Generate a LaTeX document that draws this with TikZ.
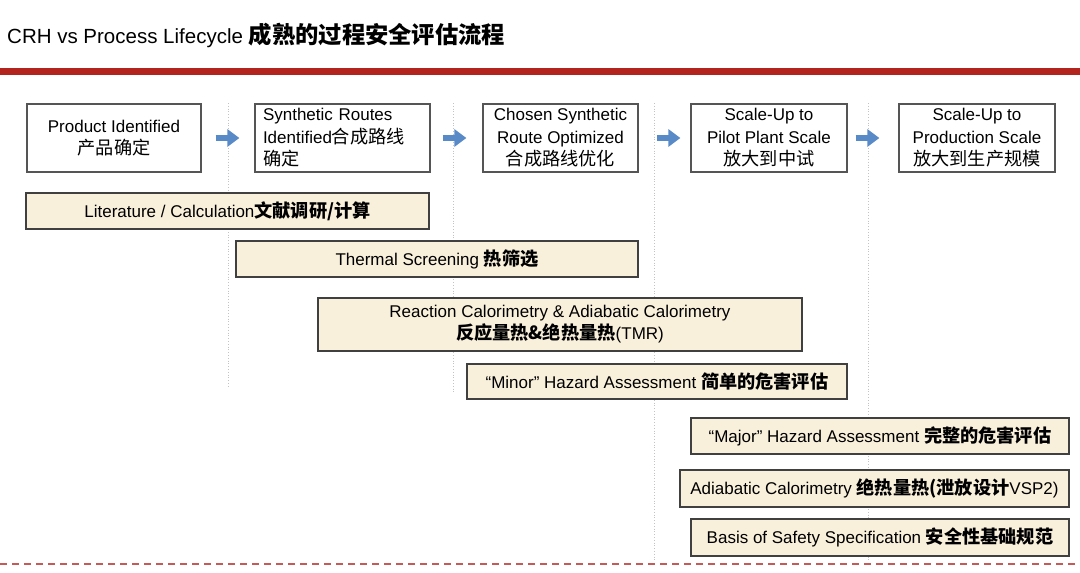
\documentclass[tikz,border=0pt]{standalone}
\usepackage{fontspec}
\setmainfont{Liberation Sans}
\newfontfamily\cjk[Scale=1.07]{Noto Sans CJK SC}
\usetikzlibrary{arrows.meta}
\newcommand{\zh}[1]{{\cjk #1}}
\newcommand{\zhb}[1]{{\cjk\bfseries #1}}
\definecolor{redbar}{RGB}{180,36,30}
\definecolor{dashred}{RGB}{198,90,88}
\definecolor{arrowblue}{RGB}{88,138,200}
\definecolor{cream}{RGB}{249,240,220}
\definecolor{boxgray}{RGB}{85,85,85}
\definecolor{bargray}{RGB}{64,64,64}
\definecolor{dotgray}{RGB}{195,195,195}
\tikzset{
  stage/.style={draw=boxgray, line width=1.2pt, fill=white, minimum height=68pt,
    inner sep=0pt, align=center, font=\fontsize{17}{22.5}\selectfont},
  bar/.style={draw=bargray, line width=1.3pt, fill=cream, inner sep=0pt,
    align=center, font=\fontsize{17}{22}\selectfont},
  flow/.style={draw=arrowblue, line width=6.5pt,
    -{Triangle[length=12pt,width=17pt]}},
  guide/.style={draw=dotgray, line width=0.8pt, dotted},
}
\begin{document}
\begin{tikzpicture}[x=1pt,y=-1pt]
\useasboundingbox (0,0) rectangle (1080,573);
% title
\node[anchor=west, inner sep=0pt] (title) at (7,35)
  {\fontsize{20.5}{26}\selectfont CRH vs Process Lifecycle \fontsize{21.8}{26}\selectfont\zhb{成熟的过程安全评估流程}};
% red bar
\fill[redbar] (0,68) rectangle (1080,75);
% guides
\draw[guide] (228,103) -- (228,386);
\draw[guide] (453,103) -- (453,392);
\draw[guide] (654,103) -- (654,560);
\draw[guide] (868,103) -- (868,560);
% stages
\node[stage, minimum width=174pt] (b1) at (114,138) {Product Identified\\\zh{产品确定}};
\node[stage, minimum width=175pt, text width=159pt, align=left] (b2) at (342.5,138)
  {Synthetic Routes\\Identified\zh{合成路线}\\\zh{确定}};
\node[stage, minimum width=155pt] (b3) at (560.5,138) {Chosen Synthetic\\Route Optimized\\\zh{合成路线优化}};
\node[stage, minimum width=156pt] (b4) at (769,138) {Scale-Up to\\Pilot Plant Scale\\\zh{放大到中试}};
\node[stage, minimum width=156pt] (b5) at (977,138) {Scale-Up to\\Production Scale\\\zh{放大到生产规模}};
% arrows
\draw[flow, shorten <=14pt, shorten >=15pt] (b1) -- (b2);
\draw[flow, shorten <=12pt, shorten >=16pt] (b2) -- (b3);
\draw[flow, shorten <=18pt, shorten >=10pt] (b3) -- (b4);
\draw[flow, shorten <=8pt, shorten >=19pt] (b4) -- (b5);
% bars
\node[bar, minimum width=403pt, minimum height=36pt] (lit) at (227.5,211)
  {Literature / Calculation\zhb{文献调研/计算}};
\node[bar, minimum width=402pt, minimum height=36pt] (therm) at (437,259)
  {Thermal Screening \zhb{热筛选}};
\node[bar, minimum width=484pt, minimum height=53pt] (react) at (560,324.5)
  {Reaction Calorimetry \& Adiabatic Calorimetry\\\zhb{反应量热\&绝热量热}(TMR)};
\node[bar, minimum width=380pt, minimum height=35pt] (minor) at (657,381.5)
  {“Minor” Hazard Assessment \zhb{简单的危害评估}};
\node[bar, minimum width=378pt, minimum height=36pt] (major) at (880,436)
  {“Major” Hazard Assessment \zhb{完整的危害评估}};
\node[bar, minimum width=389pt, minimum height=37pt] (adiab) at (874.5,488.5)
  {Adiabatic Calorimetry \zhb{绝热量热(泄放设计}VSP2)};
\node[bar, minimum width=378pt, minimum height=37pt] (basis) at (880,537.5)
  {Basis of Safety Specification \zhb{安全性基础规范}};
% bottom dashed line
\draw[dashred, line width=2.5pt, dash pattern=on 7pt off 5pt] (0,564) -- (1080,564);
\end{tikzpicture}
\end{document}
